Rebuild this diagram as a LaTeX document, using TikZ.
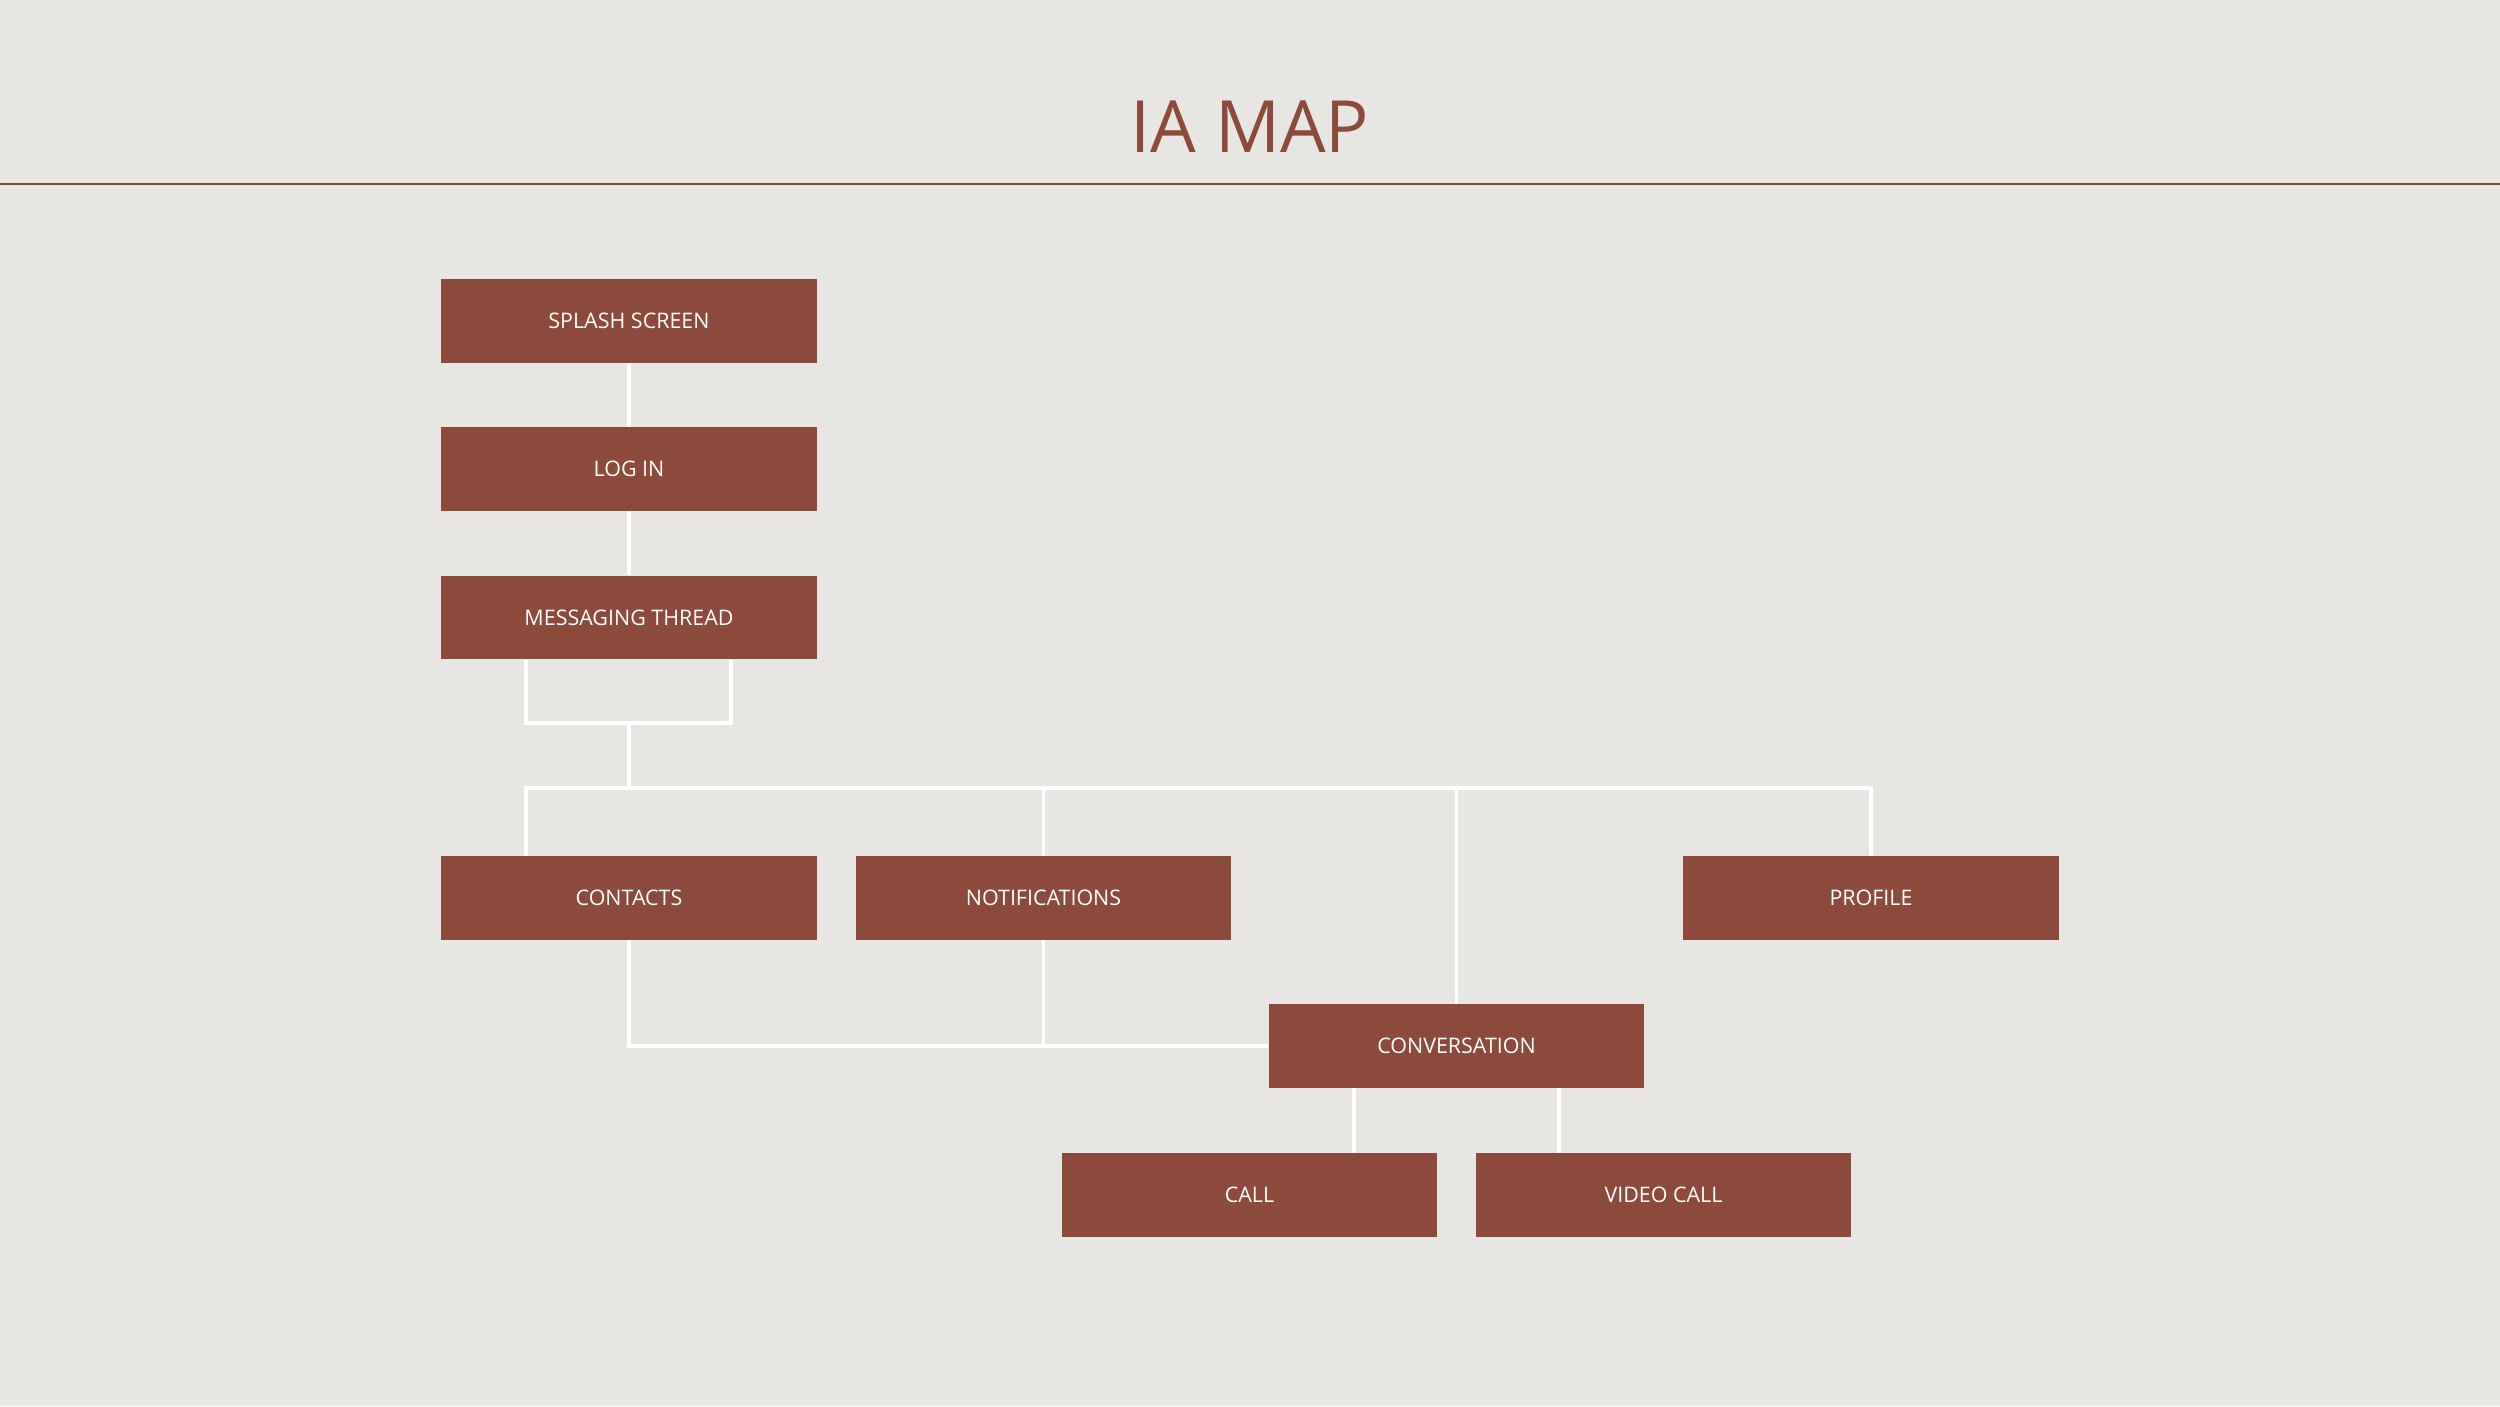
\documentclass[tikz,border=0pt]{standalone}
\usepackage{fontspec}
\setmainfont{Open Sans}
\usepackage{xcolor,tikz}
\usetikzlibrary{positioning,calc}
\definecolor{brick}{HTML}{8B4A3B}
\definecolor{paper}{HTML}{E7E6E3}
\tikzset{box/.style={fill=brick,text=white,minimum width=3.75cm,minimum height=.83cm,inner sep=0pt,font=\fontsize{6.1}{7}\selectfont},
 wire/.style={draw=white,line width=.9pt},ttl/.style={text=brick,font=\fontsize{20.5}{24}\selectfont}}

\begin{document}
\begin{tikzpicture}[x=.01cm,y=-.01cm]
\fill[paper](0,0)rectangle(2500,1406);
\useasboundingbox(0,0)rectangle(2500,1406);
\node[ttl](title) at(1250,127){IA MAP};
\draw[brick,line width=.85pt](0,184)--(2500,184);
\node[box](splash) at(629,321){SPLASH SCREEN};
\node[box](login) at(629,469){LOG IN};
\node[box](thread) at(629,617.5){MESSAGING THREAD};
\node[box](contacts) at(629,898){CONTACTS};
\node[box](notif) at(1043.5,898){NOTIFICATIONS};
\node[box](profile) at(1871,898){PROFILE};
\node[box](conv) at(1456.5,1046){CONVERSATION};
\node[box](call) at(1249.5,1195){CALL};
\node[box](video) at(1663.5,1195){VIDEO CALL};
\coordinate(br) at(629,723);\coordinate(bus) at(629,788);
\draw[wire](splash)--(login);\draw[wire](login)--(thread);
\draw[wire]([xshift=-1.03cm]thread.south)|-(br)-|([xshift=1.02cm]thread.south);
\draw[wire](br)--(bus);
\draw[wire]([xshift=-1.03cm]contacts.north)|-(profile.north|-bus)--(profile.north);
\draw[wire](notif.north)--(notif.north|-bus);
\draw[wire](conv.north)--(conv.north|-bus);
\draw[wire](contacts.south)|-(conv.west);
\draw[wire](notif.south)--(notif.south|-conv.west);
\draw[wire]([xshift=-1.025cm]conv.south)coordinate(c1)--(c1|-call.north);
\draw[wire]([xshift=1.025cm]conv.south)coordinate(c2)--(c2|-video.north);
\end{tikzpicture}
\end{document}
